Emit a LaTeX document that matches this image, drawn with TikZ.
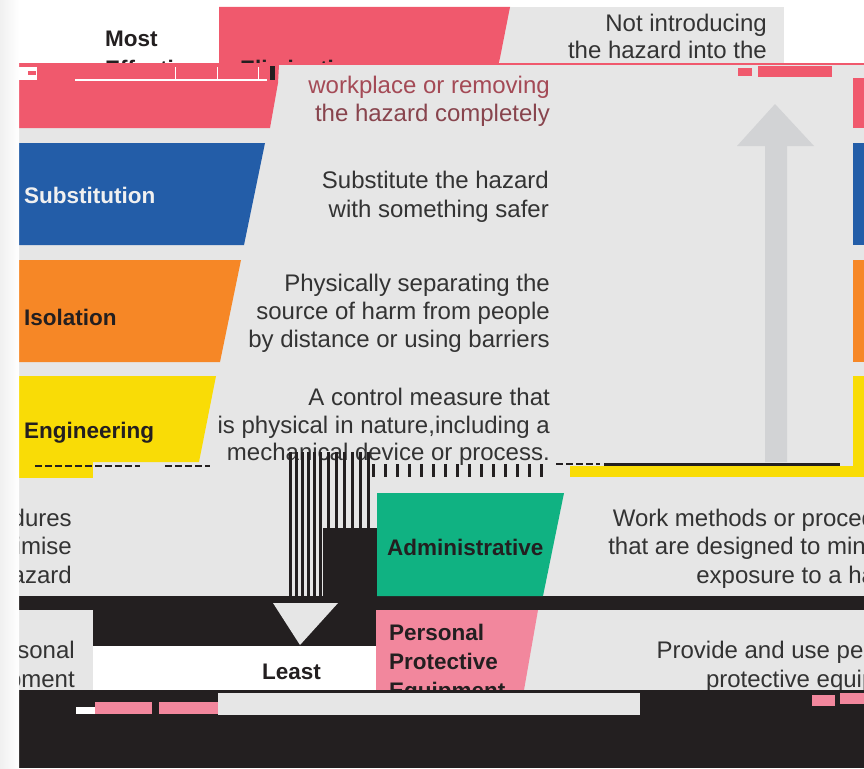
\documentclass[tikz,border=0pt]{standalone}
\usepackage{fontspec}
\setmainfont{Liberation Sans}
\usepackage{tikz}

\definecolor{elimred}{HTML}{F0596D}
\definecolor{subblue}{HTML}{235DA8}
\definecolor{isoorange}{HTML}{F68726}
\definecolor{engyellow}{HTML}{F9DC06}
\definecolor{admgreen}{HTML}{10B282}
\definecolor{ppepink}{HTML}{F2879D}
\definecolor{panelgray}{HTML}{E6E6E6}
\definecolor{arrowgray}{HTML}{D2D3D5}
\definecolor{inkblack}{HTML}{231F20}
\definecolor{textgray}{HTML}{333333}

\tikzset{
  desc/.style={anchor=base east, inner sep=0pt, text=textgray, font=\fontsize{24}{28}\selectfont},
  lbl/.style={anchor=base west, inner sep=0pt, text=inkblack, font=\fontsize{22.5}{28}\selectfont\bfseries},
  glitch/.style={inkblack, line width=2pt, dash pattern=on 7pt off 3pt},
}

\begin{document}
\begin{tikzpicture}[x=1pt,y=-1pt]
	\clip (0,0) rectangle (864,768);
	\fill[white] (0,0) rectangle (864,768);
	\fill[panelgray] (19,63) rectangle (864,690);
	\fill[panelgray] (500,7) rectangle (784,63);
	\fill[elimred] (219,7) -- (510,7) -- (499,63) -- (219,63) -- cycle;
	\node[lbl] (most) at (105,47) {Most};
	\begin{scope}
		\clip (0,0) rectangle (864,63);
		\node[lbl] (effective) at (105,77) {Effective};
		\node[lbl] (elim) at (240,77) {Elimination};
	\end{scope}
	\node[desc] (elimA) at (767,32) {Not introducing};
	\node[desc] (elimB) at (767,59) {the hazard into the};
	\fill[elimred] (19,63) rectangle (864,65);
	\fill[elimred] (19,65) -- (279,65) -- (278,83) -- (270,128) -- (19,128) -- cycle;
	\fill[white] (19,67) rectangle (37,80);
	\fill[elimred] (28,71) rectangle (36,75);
	\fill[white] (75,79) rectangle (267,81);
	\foreach \x in {175,217,258} \fill[white] (\x,67) rectangle ++(1,13);
	\fill[inkblack] (270,66) rectangle (275,80);
	\fill[elimred] (738,68) rectangle (752,76);
	\fill[elimred] (758,66) rectangle (832,77);
	\fill[elimred] (853,78) rectangle (864,128);
	\node[desc, text=elimred!60!textgray] (elimC) at (550,93) {workplace or removing};
	\node[desc, text=elimred!45!textgray] (elimD) at (550,121) {the hazard completely};

	\fill[arrowgray] (765,462) -- (765,146) -- (737,146) -- (775,104) -- (814,146) -- (787,146) -- (787,462) -- cycle;

	\fill[subblue] (19,143) -- (265,143) -- (244,245) -- (19,245) -- cycle;
	\fill[subblue] (853,143) rectangle (864,245);
	\node[lbl, text=white!94!black] (subst) at (24,203) {Substitution};
	\node[desc] (substA) at (549,188) {Substitute the hazard};
	\node[desc] (substB) at (549,217) {with something safer};

	\fill[isoorange] (19,260) -- (241,260) -- (220,362) -- (19,362) -- cycle;
	\fill[isoorange] (853,260) rectangle (864,362);
	\node[lbl] (iso) at (24,325) {Isolation};
	\node[desc] (isoA) at (550,291) {Physically separating the};
	\node[desc] (isoB) at (550,319) {source of harm from people};
	\node[desc] (isoC) at (550,347) {by distance or using barriers};

	\fill[engyellow] (19,376) -- (216,376) -- (199,462) -- (19,462) -- cycle;
	\fill[engyellow] (19,462) rectangle (93,478);
	\fill[engyellow] (853,376) rectangle (864,477);
	\fill[engyellow] (570,466) rectangle (864,477);
	\node[lbl] (eng) at (24,438) {Engineering};
	\node[desc] (engA) at (550,405) {A control measure that};
	\node[desc] (engB) at (550,433) {is physical in nature,including a};
	\node[desc] (engC) at (550,460) {mechanical device or process.};
	\draw[glitch] (35,466) -- (140,466);
	\draw[glitch] (165,466) -- (210,466);
	\draw[glitch] (556,464) -- (600,464);
	\draw[inkblack, line width=3pt] (604,464) -- (840,464);
	\foreach \x in {372,384,...,540} \fill[inkblack] (\x,464) rectangle ++(3,13);

	\node[desc] (admA) at (922,526) {Work methods or procedures};
	\node[desc] (admB) at (922,554) {that are designed to minimise};
	\node[desc] (admC) at (922,583) {exposure to a hazard};
	\node[desc] (admD) at (72,526) {Work methods or procedures};
	\node[desc] (admE) at (72,554) {that are designed to minimise};
	\node[desc] (admF) at (72,583) {exposure to a hazard};

	\foreach \x in {289,295,...,319} \fill[inkblack] (\x,452) rectangle ++(3,148);
	\foreach \x in {327,335,...,367} \fill[inkblack] (\x,452) rectangle ++(3,76);
	\fill[inkblack] (19,596) rectangle (864,610);
	\fill[inkblack] (93,596) rectangle (376,646);
	\fill[inkblack] (323,528) rectangle (377,596);
	\fill[panelgray] (273,603) -- (338,603) -- (300,645) -- cycle;
	\fill[white] (93,646) rectangle (376,690);
	\node[lbl] (least) at (262,679) {Least};

	\fill[admgreen] (377,493) -- (564,493) -- (543,596) -- (377,596) -- cycle;
	\node[lbl] (adm) at (387,555) {Administrative};

	\fill[ppepink] (376,610) -- (538,610) -- (524,690) -- (376,690) -- cycle;
	\node[lbl] (ppeA) at (389,640) {Personal};
	\node[lbl] (ppeB) at (389,669) {Protective};
	\node[lbl] (ppeC) at (389,698) {Equipment};
	\node[desc] (ppeD) at (929,658) {Provide and use personal};
	\node[desc] (ppeE) at (929,687) {protective equipment};
	\node[desc] (ppeF) at (75,658) {Provide and use personal};
	\node[desc] (ppeG) at (75,687) {protective equipment};

	\fill[inkblack] (19,690) rectangle (864,768);
	\fill[panelgray] (218,693) rectangle (640,715);
	\fill[white] (76,707) rectangle (95,714);
	\fill[ppepink] (95,702) rectangle (152,714);
	\fill[ppepink] (159,702) rectangle (218,714);
	\fill[ppepink] (812,695) rectangle (835,706);
	\fill[ppepink] (840,693) rectangle (864,704);

	\shade[left color=black!6, right color=white] (0,0) rectangle (19,768);
\end{tikzpicture}
\end{document}
